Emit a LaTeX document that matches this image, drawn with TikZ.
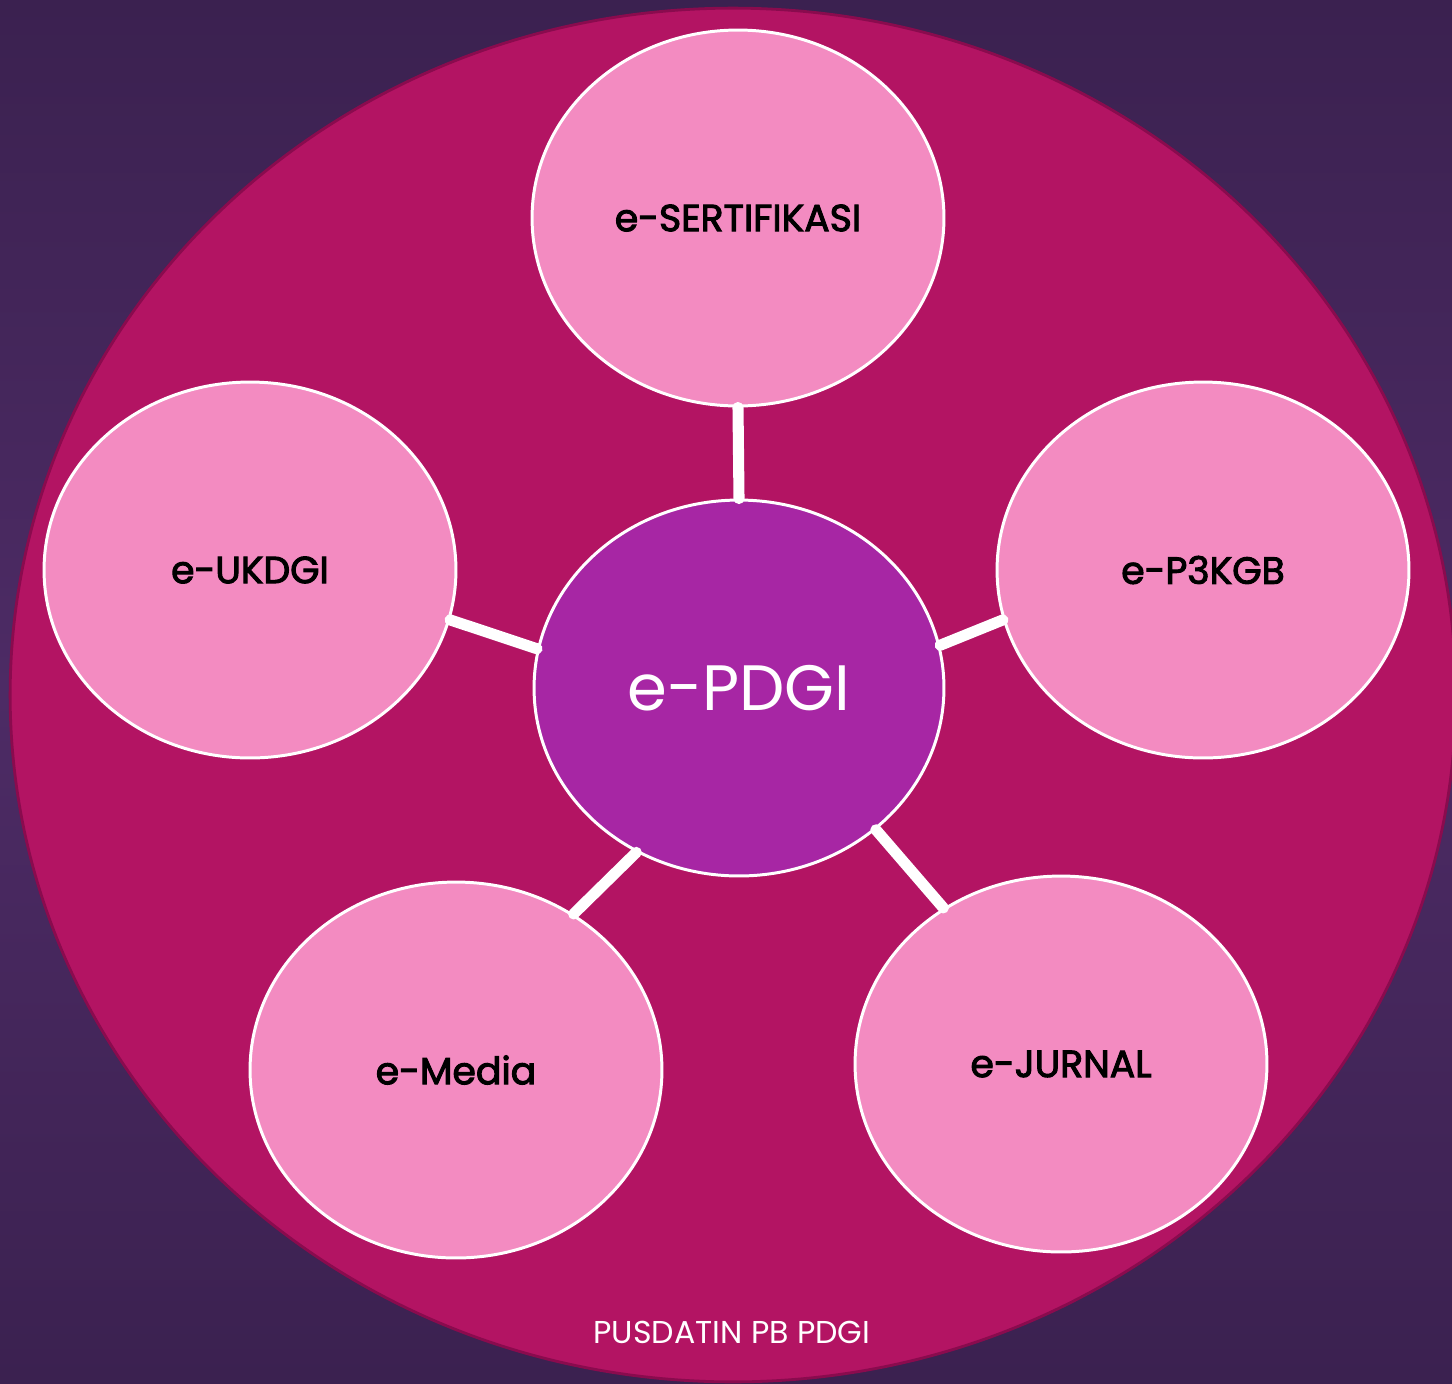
\documentclass[tikz,border=0pt]{standalone}
\usepackage{fontspec}
\setmainfont{Poppins}
\newfontfamily\lblfont[FakeBold=2.6]{Poppins}
\usepackage{tikz}
\usetikzlibrary{shapes.geometric}
\usetikzlibrary{positioning}

\definecolor{bgdark}{HTML}{3B2150}
\definecolor{bglight}{HTML}{4D2B65}
\definecolor{outerfill}{HTML}{B31463}
\definecolor{outerline}{HTML}{8A0B4E}
\definecolor{petal}{HTML}{F38BC1}
\definecolor{hub}{HTML}{A726A4}

\begin{document}
\begin{tikzpicture}[x=0.02cm,y=-0.02cm]%
\useasboundingbox (0,0) rectangle (1452,1383);
\shade[top color=bgdark,bottom color=bgdark,middle color=bglight] (0,0) rectangle (1452,1383);
\fill[outerfill,draw=outerline,line width=1.6pt] (733,695) ellipse [x radius=14.46cm,y radius=13.74cm];
\begin{scope}[shape=ellipse,minimum width=8.24cm,minimum height=7.52cm,inner sep=0pt]%
\tikzstyle{every node}=[draw=white,line width=1.7pt,fill=petal,font=\lblfont\fontsize{21.5}{25}\selectfont] %%
\node (sert) at (738,218)  {e-SERTIFIKASI}; %%
\node (ukdgi) at (250,570)  {e-UKDGI}; %%
\node (p3kgb) at (1203,570)  {e-P3KGB}; %%
\node (media) at (456,1070)  {e-Media}; %%
\node (jurnal) at (1061,1064)  {e-JURNAL}; %%
\node[fill=hub,text=white,minimum width=8.2cm,font=\fontsize{36.5}{42}\selectfont] (pdgi) at (739,688)  {e-PDGI}; %%
\end{scope}
\begin{scope}[white,line width=6.3pt,line cap=round]%
\draw (pdgi.north)--(sert.south); %%
\draw (pdgi.169)--(ukdgi.-14); %%
\draw (pdgi.12)--(p3kgb.-166); %%
\draw (pdgi.-122)--(media.53); %%
\draw (pdgi.-46)--(jurnal.127); %%
\end{scope}
\node[text=white,font=\fontsize{18}{21}\selectfont] (foot) at (732,1332) {PUSDATIN PB PDGI};%
\end{tikzpicture}
\end{document}
